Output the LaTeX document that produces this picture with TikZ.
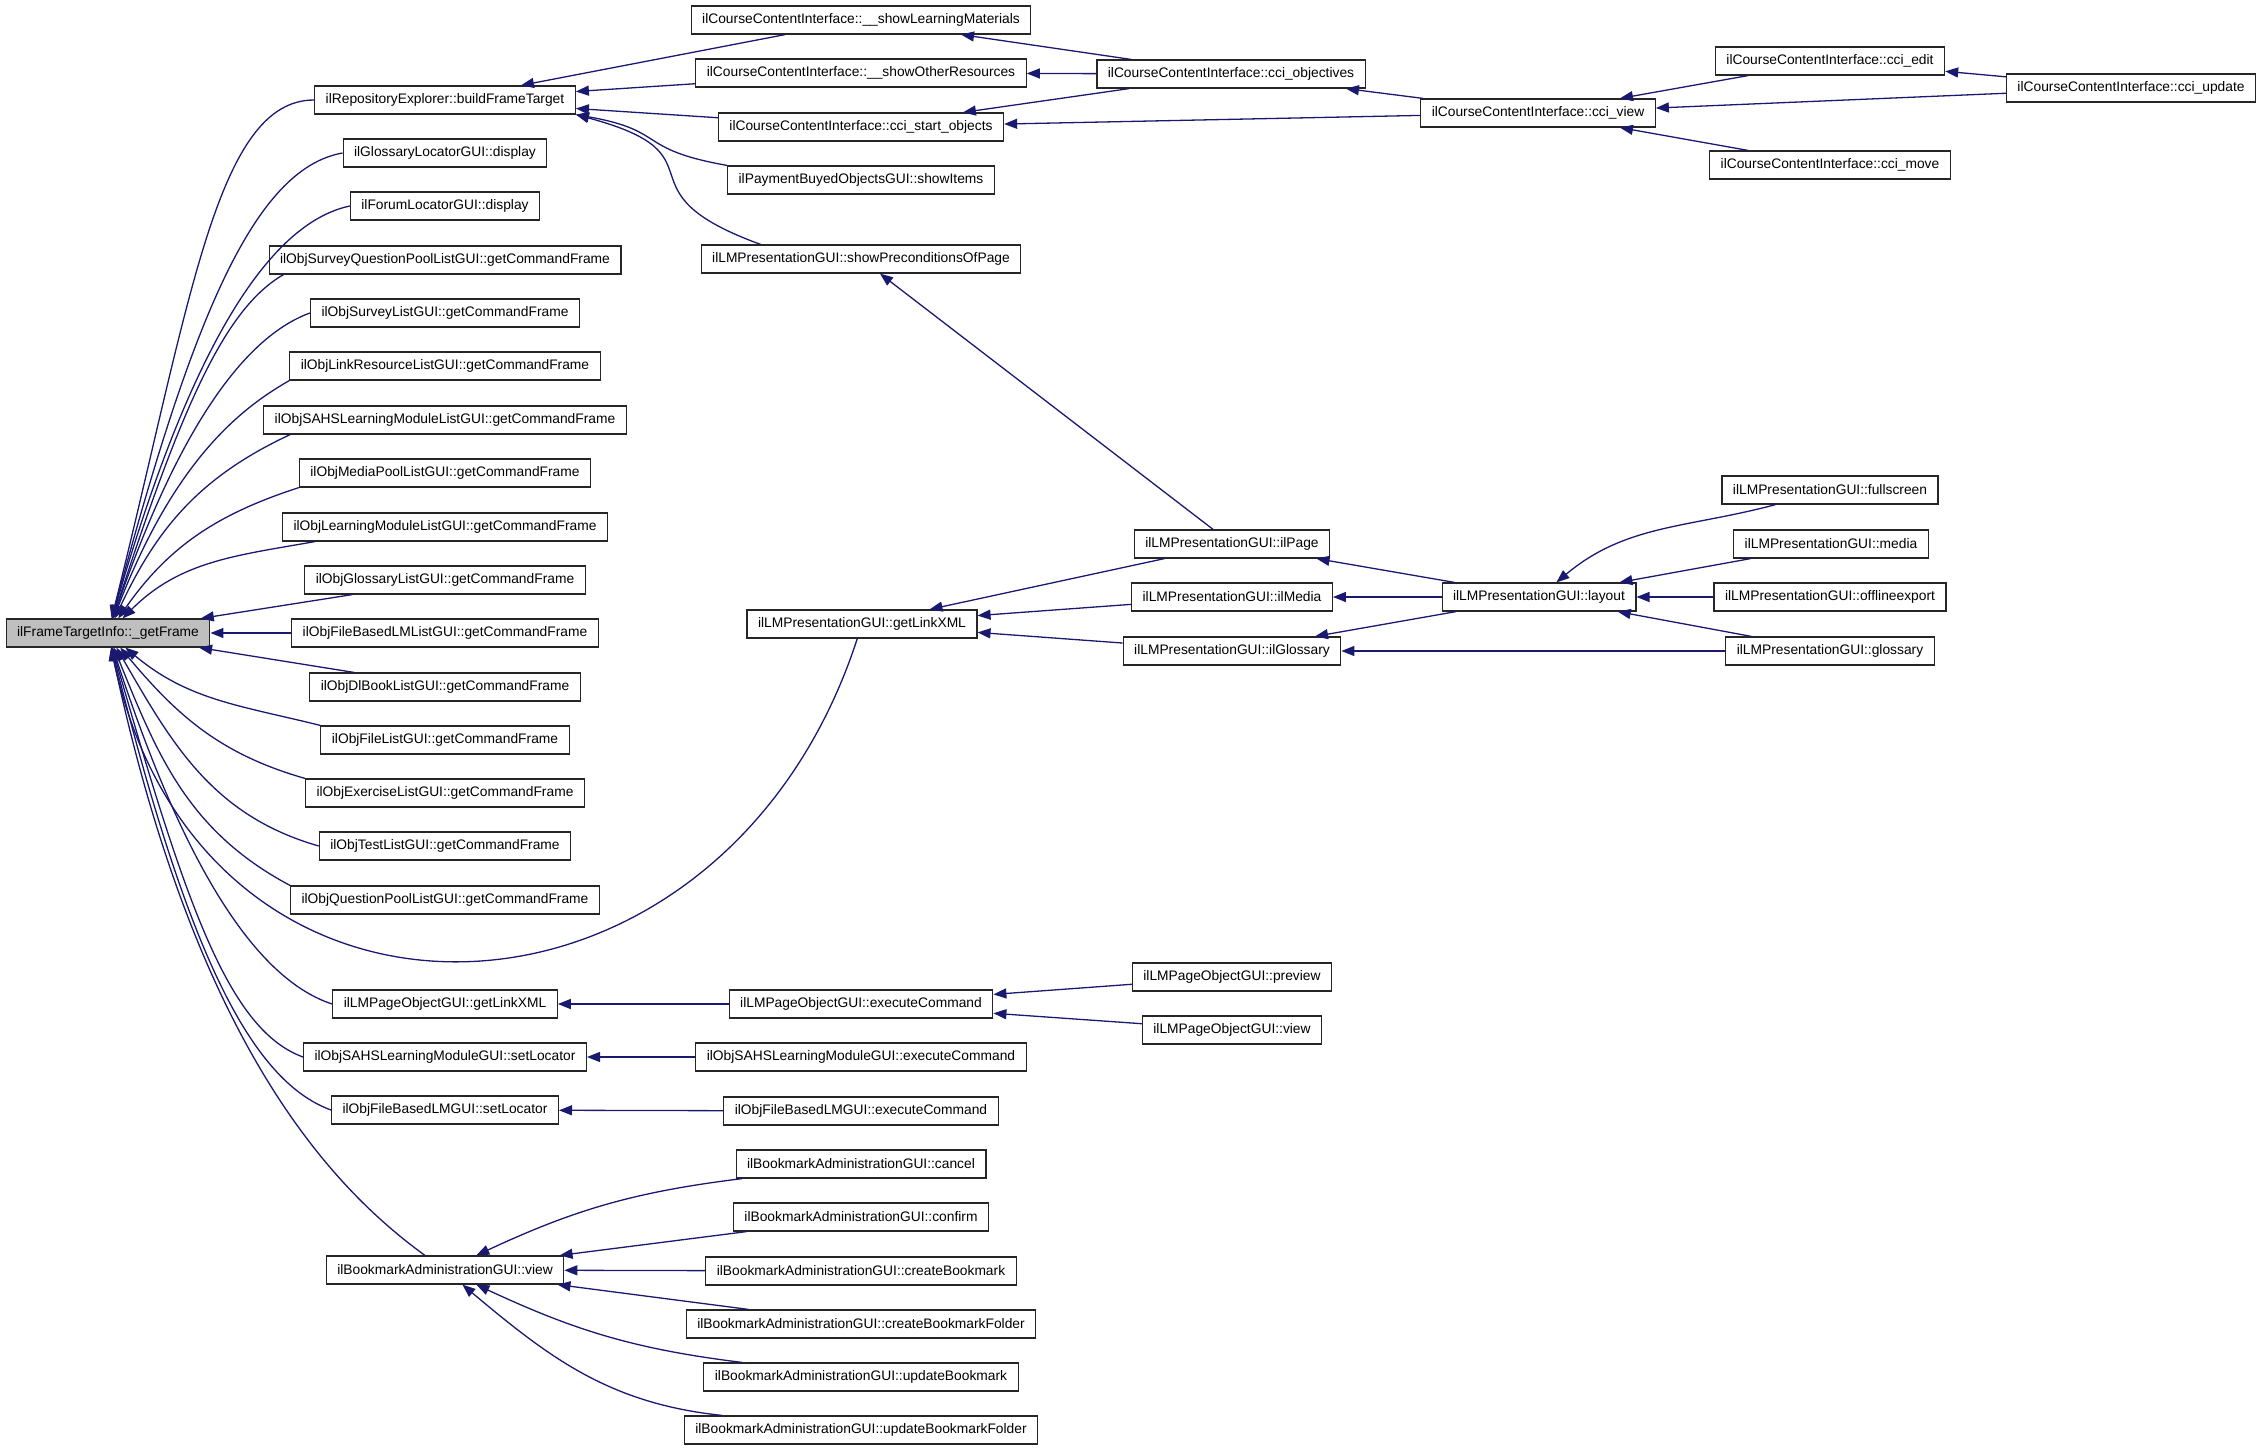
\documentclass[tikz,border=0pt]{standalone}
\usepackage{fontspec}
\setmainfont{Liberation Sans}
\usetikzlibrary{arrows.meta}
\definecolor{edgeblue}{HTML}{191970}

\begin{document}
\begin{tikzpicture}[x=1pt,y=-1pt,
    fn/.style={draw=black!85,fill=white,line width=1.2pt,minimum height=28pt,
      inner xsep=11pt,inner ysep=0pt,font=\fontsize{13.8pt}{16pt}\selectfont},
    calls/.style={edgeblue,line width=1.3pt,{Triangle[length=13pt,width=10pt]}-},
    far/.style={out looseness=1.5,in looseness=0.45}]
  \useasboundingbox (0,0) rectangle (2267,1451);

  \node[fn,fill=black!25] (gf) at (108,633) {ilFrameTargetInfo::\_getFrame};

  \node[fn] (bft)   at (445,100)  {ilRepositoryExplorer::buildFrameTarget};
  \node[fn] (gld)   at (445,153)  {ilGlossaryLocatorGUI::display};
  \node[fn] (fld)   at (445,206)  {ilForumLocatorGUI::display};
  \node[fn] (sqp)   at (445,260)  {ilObjSurveyQuestionPoolListGUI::getCommandFrame};
  \node[fn] (svl)   at (445,313)  {ilObjSurveyListGUI::getCommandFrame};
  \node[fn] (lrl)   at (445,366)  {ilObjLinkResourceListGUI::getCommandFrame};
  \node[fn] (sahsl) at (445,420)  {ilObjSAHSLearningModuleListGUI::getCommandFrame};
  \node[fn] (mpl)   at (445,473)  {ilObjMediaPoolListGUI::getCommandFrame};
  \node[fn] (lml)   at (445,527)  {ilObjLearningModuleListGUI::getCommandFrame};
  \node[fn] (gll)   at (445,580)  {ilObjGlossaryListGUI::getCommandFrame};
  \node[fn] (fbl)   at (445,633)  {ilObjFileBasedLMListGUI::getCommandFrame};
  \node[fn] (dbl)   at (445,687)  {ilObjDlBookListGUI::getCommandFrame};
  \node[fn] (fil)   at (445,740)  {ilObjFileListGUI::getCommandFrame};
  \node[fn] (exl)   at (445,793)  {ilObjExerciseListGUI::getCommandFrame};
  \node[fn] (tsl)   at (445,846)  {ilObjTestListGUI::getCommandFrame};
  \node[fn] (qpl)   at (445,900)  {ilObjQuestionPoolListGUI::getCommandFrame};
  \node[fn] (pgl)   at (445,1004) {ilLMPageObjectGUI::getLinkXML};
  \node[fn] (sahs)  at (445,1057) {ilObjSAHSLearningModuleGUI::setLocator};
  \node[fn] (fbs)   at (445,1110) {ilObjFileBasedLMGUI::setLocator};
  \node[fn] (bav)   at (445,1270) {ilBookmarkAdministrationGUI::view};

  \node[fn] (slm)   at (861,20)   {ilCourseContentInterface::\_\_showLearningMaterials};
  \node[fn] (sor)   at (861,73)   {ilCourseContentInterface::\_\_showOtherResources};
  \node[fn] (cso)   at (861,127)  {ilCourseContentInterface::cci\_start\_objects};
  \node[fn] (pbo)   at (861,180)  {ilPaymentBuyedObjectsGUI::showItems};
  \node[fn] (spc)   at (861,259)  {ilLMPresentationGUI::showPreconditionsOfPage};
  \node[fn] (lgx)   at (862,624)  {ilLMPresentationGUI::getLinkXML};
  \node[fn] (pge)   at (861,1004) {ilLMPageObjectGUI::executeCommand};
  \node[fn] (sahse) at (861,1057) {ilObjSAHSLearningModuleGUI::executeCommand};
  \node[fn] (fbe)   at (861,1111) {ilObjFileBasedLMGUI::executeCommand};
  \node[fn] (bcan)  at (861,1164) {ilBookmarkAdministrationGUI::cancel};
  \node[fn] (bcon)  at (861,1217) {ilBookmarkAdministrationGUI::confirm};
  \node[fn] (bcb)   at (861,1271) {ilBookmarkAdministrationGUI::createBookmark};
  \node[fn] (bcf)   at (861,1324) {ilBookmarkAdministrationGUI::createBookmarkFolder};
  \node[fn] (bub)   at (861,1377) {ilBookmarkAdministrationGUI::updateBookmark};
  \node[fn] (buf)   at (861,1430) {ilBookmarkAdministrationGUI::updateBookmarkFolder};

  \node[fn] (cob)   at (1231,74)  {ilCourseContentInterface::cci\_objectives};
  \node[fn] (ilp)   at (1232,544) {ilLMPresentationGUI::ilPage};
  \node[fn] (ilm)   at (1232,597) {ilLMPresentationGUI::ilMedia};
  \node[fn] (ilg)   at (1232,651) {ilLMPresentationGUI::ilGlossary};
  \node[fn] (pgp)   at (1232,977) {ilLMPageObjectGUI::preview};
  \node[fn] (pgv)   at (1232,1030) {ilLMPageObjectGUI::view};

  \node[fn] (ccv)   at (1538,113) {ilCourseContentInterface::cci\_view};
  \node[fn] (lay)   at (1539,597) {ilLMPresentationGUI::layout};

  \node[fn] (cce)   at (1830,61)  {ilCourseContentInterface::cci\_edit};
  \node[fn] (ccm)   at (1830,165) {ilCourseContentInterface::cci\_move};
  \node[fn] (fsc)   at (1830,490) {ilLMPresentationGUI::fullscreen};
  \node[fn] (med)   at (1831,544) {ilLMPresentationGUI::media};
  \node[fn] (ofe)   at (1830,597) {ilLMPresentationGUI::offlineexport};
  \node[fn] (glo)   at (1830,651) {ilLMPresentationGUI::glossary};

  \node[fn] (ccu)   at (2131,88)  {ilCourseContentInterface::cci\_update};

  \path[calls]
    (gf) edge[far,out=76,in=180] (bft.west)
         edge[far,out=75,in=190] (gld.west)
         edge[far,out=74,in=192] (fld.west)
         edge[far,out=72,in=210] ([xshift=15pt]sqp.south west)
         edge[far,out=71,in=200] (svl.west)
         edge[far,out=69,in=210] (lrl.south west)
         edge[out=65,in=205] ([xshift=27pt]sahsl.south west)
         edge[out=55,in=198] (mpl.south west)
         edge[out=45,in=190] ([xshift=33pt]lml.south west)
         edge (gll) edge (fbl) edge (dbl)
         edge[out=-40,in=166] (fil.north west)
         edge[out=-50,in=164] (exl.north west)
         edge[out=-60,in=164] (tsl.west)
         edge[out=-68,in=152] (qpl.north west)
         edge[out=-78,in=-108,looseness=1.5] (lgx)
         edge[far,out=-72,in=162] (pgl.west)
         edge[far,out=-74,in=160] (sahs.west)
         edge[far,out=-76,in=160] (fbs.west)
         edge[far,out=-78,in=144] (bav)
    (bft) edge (slm) edge (sor) edge (cso)
    (bft.south east) edge[out=-10,in=170,looseness=1.5] (pbo.north west)
                     edge[out=-15,in=160,looseness=1.8] ([xshift=60pt]spc.north west)
    (slm) edge (cob)
    (sor) edge (cob)
    (cso) edge (cob) edge (ccv)
    (cob) edge (ccv)
    (ccv) edge (cce) edge (ccu) edge (ccm)
    (cce) edge (ccu)
    (spc) edge (ilp)
    (lgx) edge (ilp) edge (ilm) edge (ilg)
    (ilp) edge (lay)
    (ilm) edge (lay)
    (ilg) edge (lay) edge (glo)
    (lay) edge[out=40,in=195] (fsc) edge (med) edge (ofe) edge (glo)
    (pgl) edge (pge)
    (pge) edge (pgp) edge (pgv)
    (sahs) edge (sahse)
    (fbs) edge (fbe)
    (bav) edge[out=25,in=187] (bcan) edge (bcon) edge (bcb) edge (bcf)
          edge[out=-25,in=173] (bub) edge[out=-40,in=174] (buf);

\end{tikzpicture}
\end{document}
